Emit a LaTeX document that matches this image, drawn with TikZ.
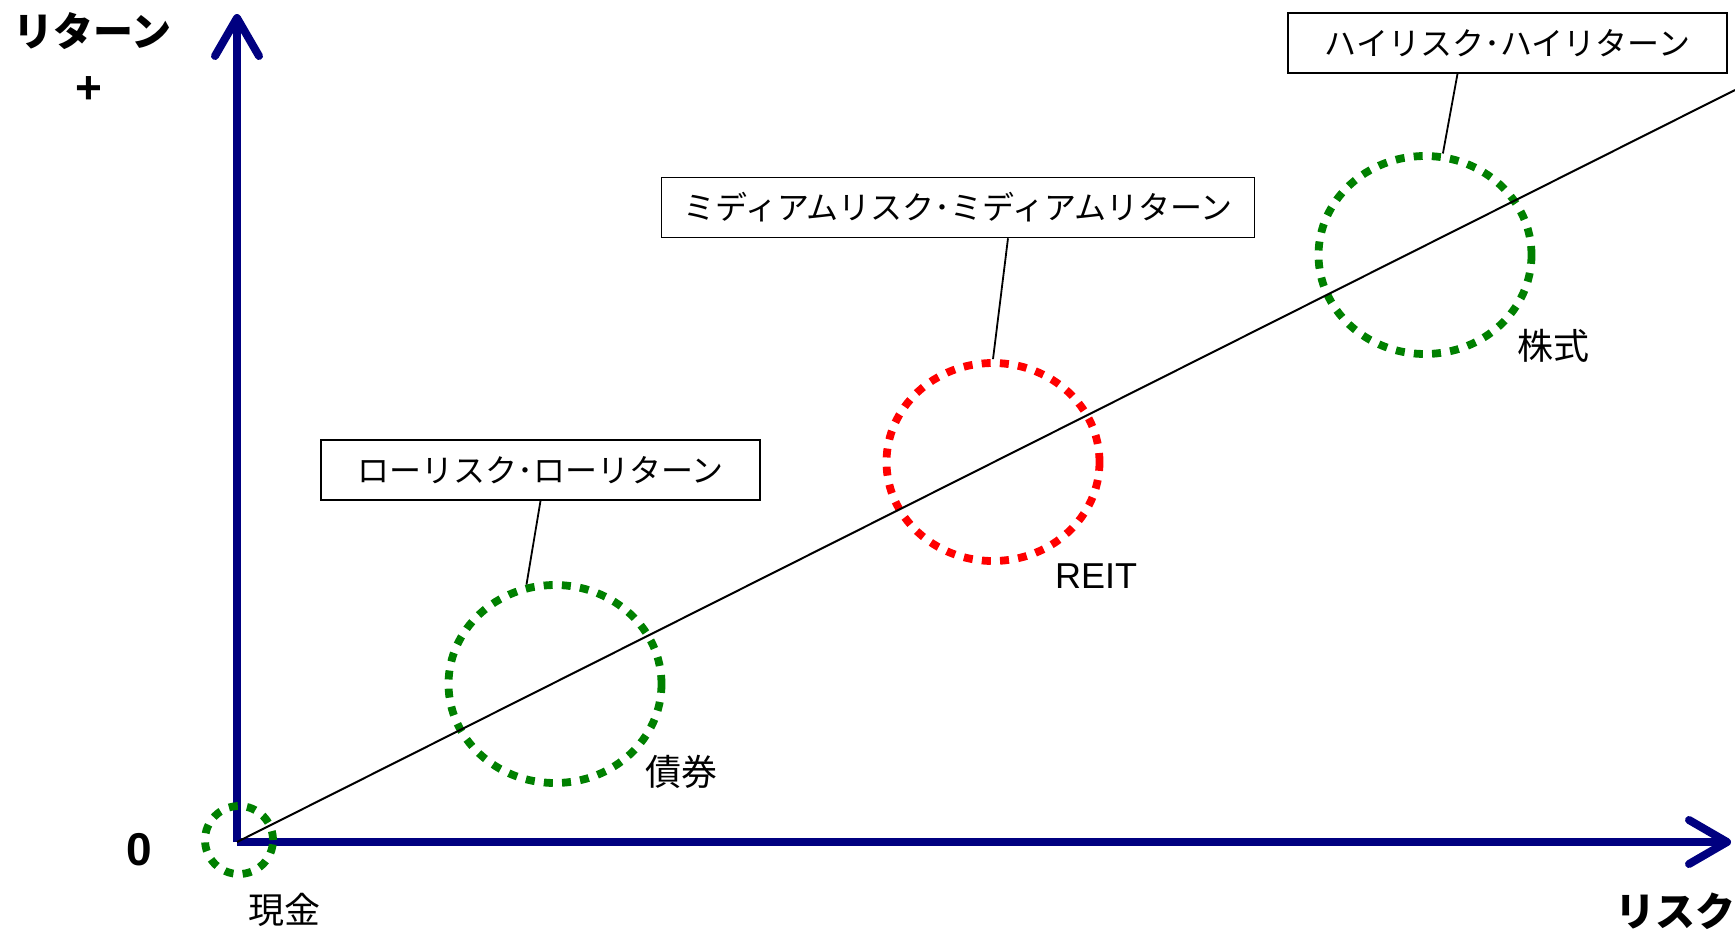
\documentclass[tikz,border=0pt]{standalone}
\usepackage{fontspec}
\setmainfont{Noto Sans CJK JP}
\newfontfamily\latinfont{Liberation Sans}
\usetikzlibrary{arrows.meta,shapes.geometric}
\definecolor{axisnavy}{RGB}{0,0,128}
\definecolor{ringgreen}{RGB}{0,128,0}
\definecolor{ringred}{RGB}{255,0,0}
\tikzset{
	axisline/.style={draw=axisnavy,line width=4pt,-{Straight Barb[length=19pt,width=22pt,round]}},
	trendline/.style={draw=black,line width=1pt},
	pointer/.style={draw=black,line width=0.9pt},
	riskbox/.style={shape=rectangle,draw=black,line width=0.8pt,minimum width=219.5pt,minimum height=30pt,inner sep=0pt,font=\fontsize{16}{18}\selectfont},
	ring/.style={shape=ellipse,draw=#1,line width=3.9pt,dash pattern=on 4.5pt off 4.6pt,minimum width=106.5pt,minimum height=99pt,inner sep=0pt},
	assetlabel/.style={inner sep=0pt,font=\fontsize{18}{20}\selectfont},
	axislabel/.style={inner sep=0pt,font=\fontsize{20}{22}\selectfont\bfseries},
	signlabel/.style={inner sep=0pt,font=\latinfont\fontsize{23}{25}\selectfont\bfseries}
}
\begin{document}
\begin{tikzpicture}[x=0.5pt,y=-0.5pt]
	\useasboundingbox (0,0) rectangle (1735,932);
	\coordinate (origin) at (237,842);
	\coordinate (rettip) at (237,14);
	\coordinate (risktip) at (1731,842);
	\coordinate (lineend) at (1735,90);

	\draw[axisline] (origin) -- (rettip);
	\draw[axisline] (origin) -- (risktip);

	\node[shape=circle,draw=ringgreen,line width=3.9pt,dash pattern=on 4.5pt off 4.6pt,minimum size=34pt,inner sep=0pt] (cashring) at (239,840) {};
	\node[ring=ringgreen] (bondring) at (555,684) {};
	\node[ring=ringred] (reitring) at (993,462) {};
	\node[ring=ringgreen] (stockring) at (1425,255) {};

	\draw[trendline] (origin) -- (lineend);

	\node[riskbox] (lowbox) at (540.5,470) {ローリスク･ローリターン};
	\node[riskbox,minimum width=296.5pt] (midbox) at (958,207.5) {ミディアムリスク･ミディアムリターン};
	\node[riskbox] (highbox) at (1507.5,43) {ハイリスク･ハイリターン};

	\draw[pointer] (lowbox.south) -- (bondring.106);
	\draw[pointer] ([xshift=25pt]midbox.south) -- (reitring.north);
	\draw[pointer] ([xshift=-25pt]highbox.south) -- (stockring.80);

	\node[assetlabel] (cashlabel) at (284,910) {現金};
	\node[assetlabel] (bondlabel) at (681,772) {債券};
	\node[assetlabel,font=\latinfont\fontsize{18}{20}\selectfont] (reitlabel) at (1096,576) {REIT};
	\node[assetlabel] (stocklabel) at (1553,346) {株式};

	\node[axislabel] (returnlabel) at (92,31) {リターン};
	\node[signlabel] (pluslabel) at (89,90) {+};
	\node[signlabel] (zerolabel) at (139,850) {0};
	\node[axislabel] (risklabel) at (1675,911) {リスク};
\end{tikzpicture}
\end{document}
